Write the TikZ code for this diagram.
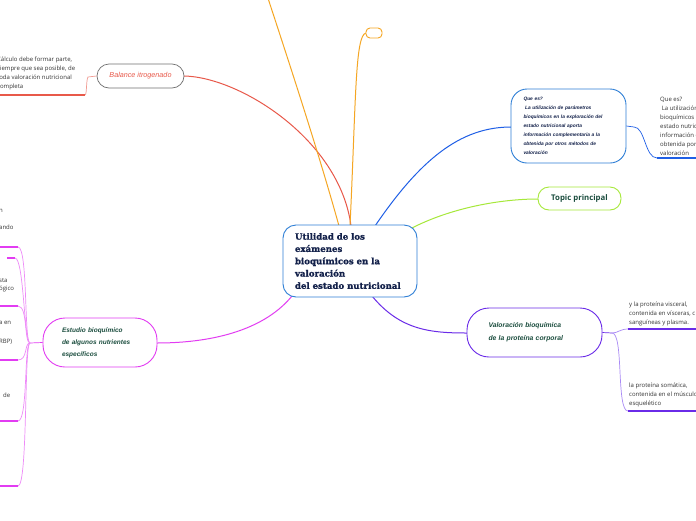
\documentclass[tikz,border=0pt]{standalone}
\usepackage{fontspec}
\setmainfont{Open Sans}
\newfontfamily\leaffont{Open Sans}
\newfontfamily\handfont{Liberation Sans}
\newfontfamily\titlefont[BoldFeatures={FakeBold=1.2}]{DejaVu Serif}
\definecolor{cblue}{HTML}{2F7FD6}
\definecolor{lblue}{HTML}{1F5FE6}
\definecolor{cred}{HTML}{E8594A}
\definecolor{corange}{HTML}{F5A623}
\definecolor{cgreen}{HTML}{A6E83A}
\definecolor{cpurple}{HTML}{6A2BE8}
\definecolor{lpurple}{HTML}{A98AF5}
\definecolor{cmag}{HTML}{E23CF2}
\definecolor{lmag}{HTML}{EE8BF8}
\definecolor{navy}{HTML}{13214A}
\definecolor{dgreen}{HTML}{1B4D3E}
\definecolor{leafgray}{HTML}{333333}
\definecolor{bgray}{HTML}{707070}
\tikzset{
  box/.style={draw, line width=0.9pt, fill=white, inner sep=0pt},
  leaftext/.style={font=\leaffont\fontsize{6}{9}\selectfont, text=leafgray, align=left, anchor=north west, inner sep=0pt},
  conn/.style={line width=1pt},
  leafline/.style={line width=1.6pt},
  thin/.style={line width=0.7pt}
}
\begin{document}
\begin{tikzpicture}[x=1pt,y=-1pt]
\useasboundingbox (0,0) rectangle (696,520);
\fill[white] (0,0) rectangle (696,520);

% ---- connectors from central node (drawn first) ----
\coordinate (cr) at (351,226);
\coordinate (co1) at (339,226);
\coordinate (co2) at (350,226);
\coordinate (cb) at (375,226);
\coordinate (cg) at (410,229);
\coordinate (cp) at (372,296);
\coordinate (cm) at (292,296);
\coordinate (otop) at (262,-20);

\draw[cred,conn] (cr) .. controls (340,140) and (240,77) .. (184,76);
\draw[corange,conn] (co1) .. controls (318,150) and (285,50) .. (otop);
\draw[corange,conn] (co2) .. controls (356,100) and (355,35) .. (366,33);
\draw[lblue,conn] (cb) .. controls (420,160) and (460,127) .. (511,127);
\draw[cgreen,conn] (cg) .. controls (450,208) and (500,199) .. (538,199);
\draw[cpurple,conn] (cp) .. controls (400,330) and (430,333) .. (467,333);
\draw[cmag,conn] (cm) .. controls (260,335) and (200,343) .. (157,343);

% ---- central node ----
\node[box, draw=cblue, rounded corners=13pt, minimum width=134pt, minimum height=72pt,
      text width=110pt, align=left, text=navy,
      font=\titlefont\bfseries\fontsize{8.6}{12.3}\selectfont] (c) at (350,261)
  {Utilidad de los\\ exámenes\\ bioquímicos en la\\ valoración\\ del estado nutricional};

% ---- Balance itrogenado ----
\node[box, draw=bgray, line width=0.7pt, rounded corners=12pt, minimum width=87pt, minimum height=24pt,
      text=cred, font=\handfont\itshape\fontsize{7.2}{8}\selectfont] (bal) at (140.5,76) {Balance itrogenado};
\coordinate (bal1) at (88,77);
\coordinate (bal2) at (85,95);
\coordinate (bal3) at (-5,95);
\draw[cred!60,thin] (bal.west) -- (bal1) .. controls (86,80) and (87,95) .. (bal2);
\draw[cred,leafline] (bal2) -- (bal3);
\node[leaftext] (baltxt) at (-3,57) {Cálculo debe formar parte,\\ siempre que sea posible, de\\ toda valoración nutricional\\ completa};

% ---- small orange node ----
\node[box, draw=corange, rounded corners=4pt, minimum width=16pt, minimum height=10pt] (orn) at (374,33) {};

% ---- Que es ----
\node[box, draw=cblue, rounded corners=16pt, minimum width=115pt, minimum height=74pt,
      text width=90pt, align=left, text=navy,
      font=\handfont\itshape\bfseries\fontsize{4.85}{9}\selectfont] (que) at (568.5,126)
  {Que es?\\ \ La utilización de parámetros\\ bioquímicos en la exploración del\\ estado nutricional aporta\\ información complementaria a la\\ obtenida por otros métodos de\\ valoración};
\coordinate (q1) at (634,127);
\coordinate (q2) at (657,158);
\coordinate (q3) at (705,158);
\draw[lblue,thin] (que.east) -- (q1) .. controls (645,127) and (645,158) .. (q2);
\draw[lblue,leafline] (q2) -- (q3);
\node[leaftext] (qtxt) at (660,97) {Que es?\\ \ La utilización de parámetros\\ bioquímicos en la exploración del\\ estado nutricional aporta\\ información complementaria a la\\ obtenida por otros métodos de\\ valoración};

% ---- Topic principal ----
\node[box, draw=cgreen, rounded corners=11pt, minimum width=83pt, minimum height=23pt,
      text=dgreen, font=\leaffont\bfseries\fontsize{7.8}{8}\selectfont] (topic) at (579.5,198.5) {Topic principal};

% ---- Valoración bioquímica ----
\node[box, draw=cpurple, rounded corners=22pt, minimum width=135pt, minimum height=49pt,
      text width=92pt, align=left, text=dgreen,
      font=\handfont\itshape\bfseries\fontsize{6.8}{13}\selectfont] (val) at (534.5,332.5)
  {Valoración bioquímica\\ de la proteína corporal};
\coordinate (vj) at (612,333);
\coordinate (v1) at (628,329);
\coordinate (v1e) at (705,329);
\coordinate (v2) at (628,411);
\coordinate (v2e) at (705,411);
\draw[cpurple,thin] (val.east) -- (vj);
\draw[lpurple,thin] (vj) .. controls (618,333) and (620,329) .. (v1);
\draw[lpurple,thin] (vj) .. controls (624,333) and (616,411) .. (v2);
\draw[cpurple,leafline] (v1) -- (v1e);
\draw[cpurple,leafline] (v2) -- (v2e);
\node[leaftext] (v1t) at (629,302) {y la proteína visceral,\\ contenida en vísceras, c\\ sanguíneas y plasma.};
\node[leaftext] (v2t) at (629,383) {la proteína somática,\\ contenida en el músculo\\ esquelético};

% ---- Estudio bioquímico ----
\node[box, draw=cmag, rounded corners=22pt, minimum width=114pt, minimum height=49pt,
      text width=76pt, align=left, text=dgreen,
      font=\handfont\itshape\bfseries\fontsize{6.5}{12}\selectfont] (est) at (100,342.5)
  {Estudio bioquímico\\ de algunos nutrientes\\ específicos};
\coordinate (ej) at (30,343);
\draw[cmag,thin] (est.west) -- (ej);
\foreach \y/\n in {247/a,306/b,360/c,421/d,486/e}{
  \coordinate (l\n) at (18,\y);
  \draw[lmag,thin] (ej) .. controls (24,343) and (28,\y) .. (l\n);
  \draw[cmag,leafline] (l\n) -- (-5,\y);
}
\coordinate (lf1) at (15,258);
\coordinate (lf2) at (7,258);
\draw[lmag,thin] (ej) .. controls (24,343) and (24,258) .. (lf1);
\draw[cmag,leafline] (lf1) -- (lf2);
\node[leaftext] (t1) at (-1,209) {n};
\node[leaftext] (t2) at (-1,225) {ando};
\node[leaftext] (t3) at (-1,278) {sta};
\node[leaftext] (t4) at (-1,286) {ógico};
\node[leaftext] (t5) at (-1,321) {a en};
\node[leaftext] (t6) at (-1,339) {RBP)};
\node[leaftext] (t7) at (3,393) {de};
\end{tikzpicture}
\end{document}
